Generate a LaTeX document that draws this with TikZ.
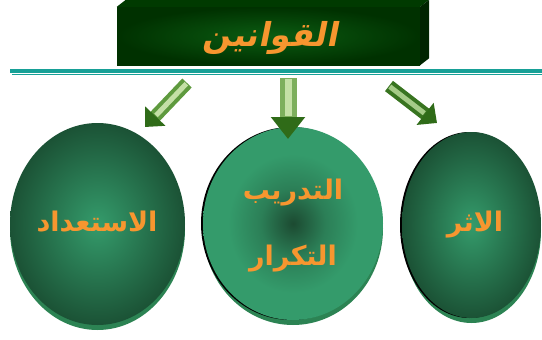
\documentclass[tikz,border=0pt]{standalone}
\usepackage{fontspec}
\usetikzlibrary{shapes.geometric,arrows.meta,positioning}
\TeXXeTstate=1
\newfontfamily\arabicfont[Script=Arabic]{DejaVu Sans}
\newfontfamily\titlefont[Script=Arabic,FakeSlant=0.2]{DejaVu Sans Bold}

\definecolor{boxdark}{HTML}{003100}
\definecolor{boxmid}{HTML}{0B5C12}
\definecolor{boxtop}{HTML}{003A00}
\definecolor{boxside}{HTML}{002400}
\definecolor{tealline}{HTML}{17A097}
\definecolor{lbltext}{HTML}{F7962F}
\definecolor{ballin}{HTML}{349B6B}
\definecolor{ballout}{HTML}{1B5235}
\definecolor{ballcore}{HTML}{1C4A31}
\definecolor{ballrim}{HTML}{2C8353}
\definecolor{arrdark}{HTML}{2F6B18}
\definecolor{arrmid}{HTML}{5E9A3E}
\definecolor{arrlight}{HTML}{C4E0A6}

\pgfdeclareradialshading{darkcore}{\pgfpoint{0bp}{0bp}}{%
  color(0bp)=(ballcore); color(9bp)=(ballin!65!ballcore); color(18bp)=(ballin);
  color(25bp)=(ballin); color(50bp)=(ballin)}

\tikzset{
  titlebox/.style={rectangle, minimum width=303pt, minimum height=58pt, inner sep=0pt,
    shading=radial, inner color=boxmid, outer color=boxdark},
  bubble/.style={ellipse, inner sep=0pt, shading=radial, inner color=ballin, outer color=ballout},
  bubblerev/.style={ellipse, inner sep=0pt, shading=darkcore},
  lbl/.style={text=lbltext, font=\arabicfont\bfseries\fontsize{27}{32}\selectfont},
  arrbase/.style={line width=13pt, draw=arrmid, -{Triangle[width=27pt,length=15pt,color=arrdark]}},
  arrhigh/.style={line width=5pt, draw=arrlight, shorten >=16pt, shorten <=1pt},
}

\begin{document}
\begin{tikzpicture}[x=1pt,y=-1pt]
\useasboundingbox (0,0) rectangle (542,340);

% title block
\node[titlebox] (title) at (268.5,36) {};
\fill[boxtop] (title.north west) -- ++(9,-7) -- ([shift={(9,-7)}]title.north east) -- (title.north east) -- cycle;
\fill[boxside] (title.north east) -- ++(9,-7) -- ([shift={(9,-7)}]title.south east) -- (title.south east) -- cycle;
\node[text=lbltext, font=\titlefont\fontsize{33}{38}\selectfont] (titletext) at (270,38) {\beginR القوانين\endR};

% double rule
\draw[tealline, line width=3.6pt] (10,70.8) -- (542,70.8);
\draw[tealline, line width=1.2pt] (12,74.6) -- (542,74.6);

% rims
\fill[ballrim] (97.5,229) ellipse [x radius=87.5, y radius=101];
\fill[ballrim] (293,228.5) ellipse [x radius=90, y radius=96.5];
\fill[ballrim] (471.5,230) ellipse [x radius=69.5, y radius=93];
\fill[black] (291,223.5) ellipse [x radius=90, y radius=96.5];
\fill[black] (469.5,225) ellipse [x radius=69.5, y radius=93];

% ellipses
\node[bubble, minimum width=175pt, minimum height=202pt] (prep) at (97.5,224) {};
\node[bubblerev, minimum width=180pt, minimum height=193pt] (drill) at (293,223.5) {};
\node[bubble, minimum width=139pt, minimum height=186pt] (effect) at (471.5,225) {};

\node[lbl] (preptext) at (97,222) {\beginR الاستعداد\endR};
\node[lbl, align=center, font=\arabicfont\bfseries\fontsize{27}{66}\selectfont] (drilltext) at (293,226) {\beginR التدريب\endR\\\beginR التكرار\endR};
\node[lbl] (effecttext) at (475,225) {\beginR الاثر\endR};

% arrows
\coordinate (a1) at (187,83);
\coordinate (a2) at (145,127);
\coordinate (b1) at (288,78);
\coordinate (b2) at (288,139);
\coordinate (c1) at (389,86);
\coordinate (c2) at (437,123);

\draw[arrbase] (a1) -- (a2);
\draw[arrhigh] (a1) -- (a2);
\draw[arrbase, line width=17pt, draw=arrmid!70!arrlight, -{Triangle[width=33pt,length=22pt,color=arrdark]}] (b1) -- (b2);
\draw[arrhigh, line width=7pt, shorten >=23pt] (b1) -- (b2);
\draw[arrbase, draw=arrdark!80!arrmid] (c1) -- (c2);
\draw[arrhigh, draw=arrlight!70!arrmid] (c1) -- (c2);
\end{tikzpicture}
\end{document}
